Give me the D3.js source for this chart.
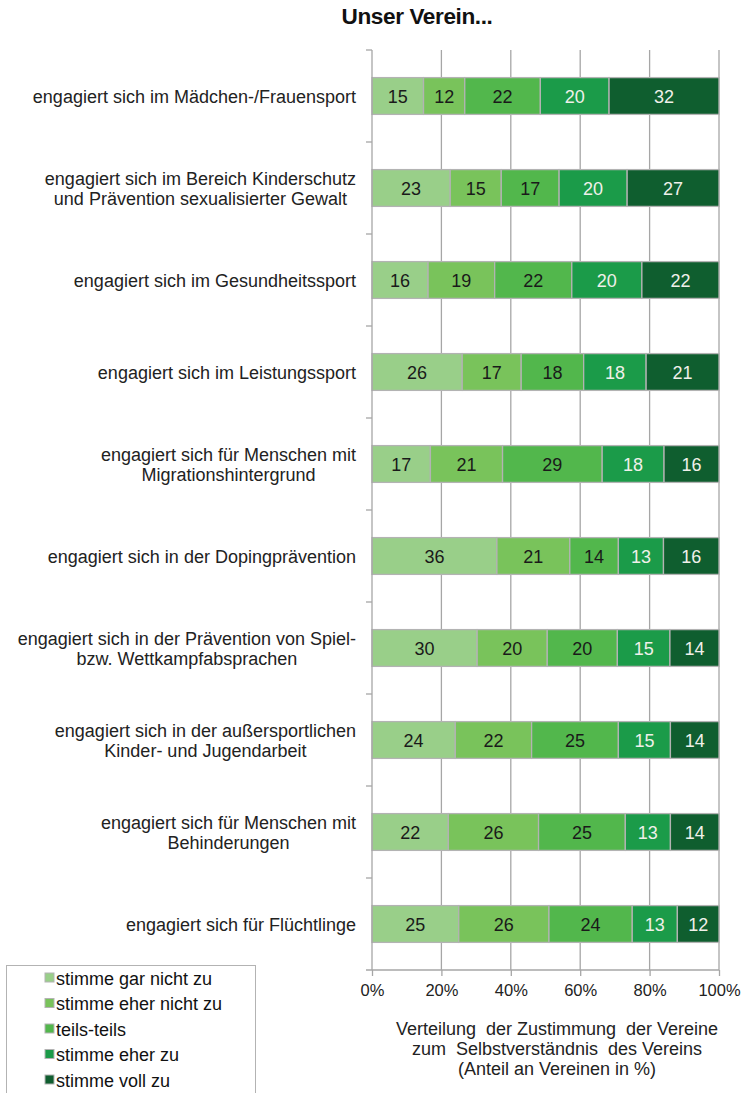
<!DOCTYPE html>
<html><head><meta charset="utf-8">
<script src="https://cdn.jsdelivr.net/npm/d3@7"></script>
<style>body{margin:0;background:#fff}svg{display:block;font-family:"Liberation Sans",Arial,sans-serif}</style>
</head><body>
<script>
const title = "Unser Verein...";
const categories = [
  ["engagiert sich im Mädchen-/Frauensport"],
  ["engagiert sich im Bereich Kinderschutz","und Prävention sexualisierter Gewalt"],
  ["engagiert sich im Gesundheitssport"],
  ["engagiert sich im Leistungssport"],
  ["engagiert sich für Menschen mit","Migrationshintergrund"],
  ["engagiert sich in der Dopingprävention"],
  ["engagiert sich in der Prävention von Spiel-","bzw. Wettkampfabsprachen"],
  ["engagiert sich in der außersportlichen","Kinder- und Jugendarbeit"],
  ["engagiert sich für Menschen mit","Behinderungen"],
  ["engagiert sich für Flüchtlinge"]
];
const seriesNames = ["stimme gar nicht zu","stimme eher nicht zu","teils-teils","stimme eher zu","stimme voll zu"];
const gar_nicht = [15,23,16,26,17,36,30,24,22,25];
const eher_nicht = [12,15,19,17,21,21,20,22,26,26];
const teils = [22,17,22,18,29,14,20,25,25,24];
const eher_zu = [20,20,20,18,18,13,15,15,13,13];
const voll_zu = [32,27,22,21,16,16,14,14,14,12];
const colors = ["#99cf89","#79c35b","#52b74c","#1b9b49","#0f5e2f"];
const textColors = ["#1a1a1a","#1a1a1a","#1a1a1a","#f0f0ea","#f0f0ea"];
const xTicks = [0,0.2,0.4,0.6,0.8,1];
const axisTitle = ["Verteilung  der Zustimmung  der Vereine","zum  Selbstverständnis  des Vereins","(Anteil an Vereinen in %)"];

const W=746,H=1093;
const svg=d3.select("body").append("svg").attr("width",W).attr("height",H);
const series=[gar_nicht,eher_nicht,teils,eher_zu,voll_zu];
const rows=categories.map((c,i)=>{
  const vals=series.map(s=>s[i]);
  const tot=d3.sum(vals);
  let acc=0;
  return vals.map((v,k)=>{const r={i,k,v,x0:acc/tot,x1:(acc+v)/tot};acc+=v;return r;});
});
const x=d3.scaleLinear().domain([0,1]).range([372,719]);
const y=d3.scaleBand().domain(d3.range(categories.length)).range([50,970]).paddingInner(0.6).paddingOuter(0.3);
const yb=d3.scaleBand().domain(d3.range(categories.length)).range([50,970]);

// title
svg.append("text").attr("x",417).attr("y",24).attr("text-anchor","middle")
  .attr("font-size",22.6).attr("font-weight","bold").attr("letter-spacing",-0.4).attr("fill","#111").text(title);

// gridlines
svg.append("g").selectAll("line").data(xTicks.slice(1)).join("line")
  .attr("x1",d=>x(d)).attr("x2",d=>x(d)).attr("y1",50).attr("y2",970)
  .attr("stroke","#a6a6a6").attr("stroke-width",1.3);

// bars
const g=svg.append("g");
rows.forEach(r=>{
  const gg=g.append("g");
  gg.selectAll("rect").data(r).join("rect")
    .attr("x",d=>x(d.x0)).attr("width",d=>x(d.x1)-x(d.x0))
    .attr("y",d=>y(d.i)).attr("height",y.bandwidth())
    .attr("fill",d=>colors[d.k]).attr("stroke","#b3b3b3").attr("stroke-width",1.3);
  gg.selectAll("text").data(r).join("text")
    .attr("x",d=>(x(d.x0)+x(d.x1))/2).attr("y",d=>y(d.i)+y.bandwidth()/2+6.5)
    .attr("text-anchor","middle").attr("font-size",18).attr("fill",d=>textColors[d.k]).text(d=>d.v);
});

// y axis line and ticks
svg.append("line").attr("x1",372).attr("x2",372).attr("y1",50).attr("y2",970).attr("stroke","#a6a6a6").attr("stroke-width",1.3);
svg.append("g").selectAll("line").data(d3.range(categories.length)).join("line")
  .attr("x1",366).attr("x2",372).attr("y1",d=>yb(d)).attr("y2",d=>yb(d)).attr("stroke","#a6a6a6").attr("stroke-width",1.3);
// x axis
const xa=svg.append("g").attr("transform","translate(0,970)")
  .call(d3.axisBottom(x).tickValues(xTicks).tickFormat(d3.format(".0%")).tickSize(6).tickPadding(6));
xa.select(".domain").attr("stroke","#a6a6a6").attr("stroke-width",1.3).attr("d","M366,0H719");
xa.selectAll(".tick line").attr("stroke","#a6a6a6").attr("stroke-width",1.3);
xa.selectAll(".tick text").attr("font-size",16.5).attr("fill","#222").attr("dy",null).attr("y",26)
  .attr("font-family","Liberation Sans, Arial, sans-serif");

// category labels
categories.forEach((lines,i)=>{
  const t=svg.append("text").attr("font-size",18).attr("fill","#222").attr("text-anchor","middle");
  const cy=y(i)+y.bandwidth()/2;
  const lh=20;
  const y0=cy-(lines.length-1)*lh/2+6.5;
  const sp=lines.map((l,j)=>t.append("tspan").attr("y",y0+j*lh).text(l));
  const maxW=d3.max(sp,s=>s.node().getComputedTextLength());
  sp.forEach(s=>s.attr("x",356-maxW/2));
});

// axis title
svg.append("g").selectAll("text").data(axisTitle).join("text")
  .attr("x",557).attr("y",(d,j)=>1035+j*20).attr("text-anchor","middle")
  .attr("font-size",18).attr("fill","#222").style("white-space","pre").text(d=>d);

// legend
svg.append("rect").attr("x",6.5).attr("y",965.5).attr("width",249).attr("height",140).attr("fill","#fff").attr("stroke","#b3b3b3");
const lg=svg.append("g").selectAll("g").data(seriesNames).join("g")
  .attr("transform",(d,j)=>`translate(45,${978+j*25.5})`);
lg.append("rect").attr("x",0).attr("y",-5).attr("width",9).attr("height",9).attr("fill",(d,j)=>colors[j]).attr("stroke","#b3b3b3");
lg.append("text").attr("x",11).attr("y",6.5).attr("font-size",18).attr("fill","#111").text(d=>d);
</script>
</body></html>
